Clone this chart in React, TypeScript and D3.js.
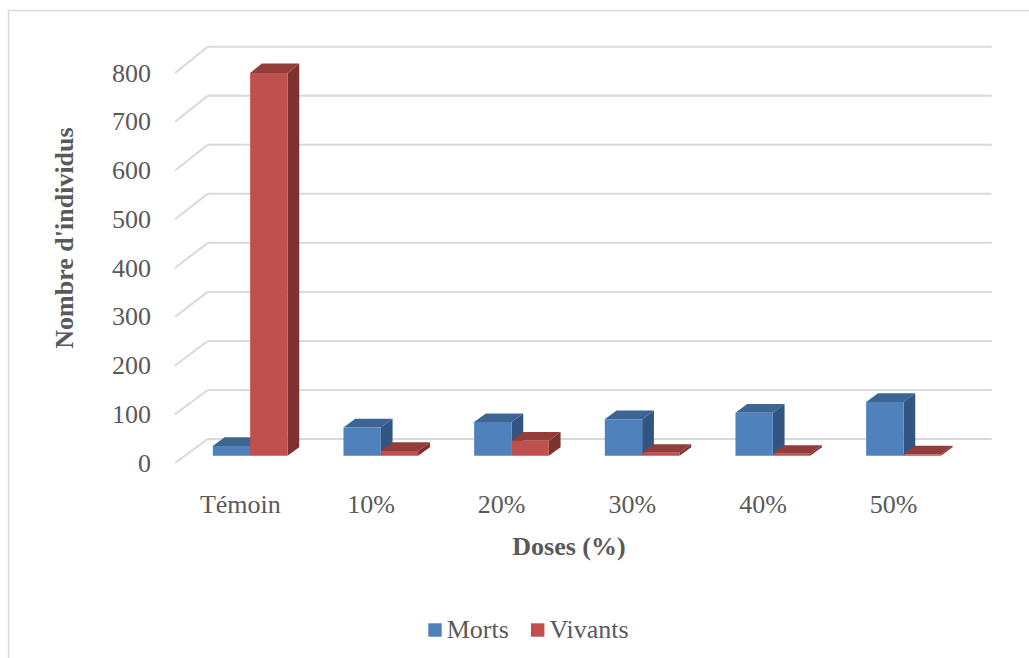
import React from "react";
import * as d3 from "d3";

// Chart data
const categories = ["Témoin", "10%", "20%", "30%", "40%", "50%"];
const morts = [20, 58, 69, 75, 88, 110];
const vivants = [784, 10, 31, 6, 4, 3];
const seriesNames = ["Morts", "Vivants"];
const yTicks = [0, 100, 200, 300, 400, 500, 600, 700, 800];

const W = 1029;
const H = 658;
const FONT = "'Liberation Serif', 'Times New Roman', serif";
const TEXT = "#595959";
const GRID = "#d9d9d9";

// Series colours: front, top, side faces
const palette = [
  { front: "#4f81bd", top: "#3c6594", side: "#325582" },
  { front: "#c0504d", top: "#943c3a", side: "#7d3230" },
];

// Oblique 3D projection: z = 0 front edge of the floor, z = 1 back wall
const DX = 32.7;
const xFront = d3.scaleBand<string>().domain(categories).range([175, 959]);
const yFront = d3.scaleLinear().domain([0, 800]).range([463, 73]);
const yBack = d3.scaleLinear().domain([0, 800]).range([439, 46.7]);

function proj(x: number, v: number, z: number): [number, number] {
  const yf = yFront(v);
  const yb = yBack(v);
  return [x + z * DX, yf + z * (yb - yf)];
}

const pts = (a: [number, number][]) => a.map((p) => p.join(",")).join(" ");

export default function App() {
  const series = [morts, vivants];
  const band = xFront.bandwidth();
  const bw = band / 3.5; // 150% gap width
  const offset = (band - 2 * bw) / 2;
  const z0 = 0.3;
  const z1 = 0.66;

  const bars: React.ReactNode[] = [];
  categories.forEach((cat, ci) => {
    series.forEach((vals, si) => {
      const v = vals[ci];
      const x0 = (xFront(cat) as number) + offset + si * bw;
      const x1 = x0 + bw;
      const c = palette[si];
      bars.push(
        <g key={`${ci}-${si}`}>
          <polygon
            points={pts([proj(x1, 0, z0), proj(x1, 0, z1), proj(x1, v, z1), proj(x1, v, z0)])}
            fill={c.side}
          />
          <polygon
            points={pts([proj(x0, v, z0), proj(x1, v, z0), proj(x1, v, z1), proj(x0, v, z1)])}
            fill={c.top}
          />
          <polygon
            points={pts([proj(x0, 0, z0), proj(x1, 0, z0), proj(x1, v, z0), proj(x0, v, z0)])}
            fill={c.front}
          />
        </g>
      );
    });
  });

  const xLeft = 175;
  const xRight = 959;

  return (
    <svg
      width={W}
      height={H}
      style={{ position: "absolute", left: 0, top: 0, background: "#fff" }}
      fontFamily={FONT}
    >
      <rect x={8.5} y={10.5} width={1040} height={680} fill="none" stroke={GRID} strokeWidth={1.5} />

      {/* gridlines: back wall and side wall */}
      {yTicks.map((t) => {
        const [bx, by] = proj(xLeft, t, 1);
        const [fx, fy] = proj(xLeft, t, 0);
        const [ex, ey] = proj(xRight, t, 1);
        return (
          <g key={t} stroke={GRID} strokeWidth={2} fill="none">
            <line x1={fx} y1={fy} x2={bx} y2={by} />
            <line x1={bx} y1={by} x2={ex} y2={ey} />
          </g>
        );
      })}

      {/* y tick labels */}
      {yTicks.map((t) => (
        <text
          key={`l${t}`}
          x={151}
          y={yFront(t)}
          dy="0.33em"
          textAnchor="end"
          fontSize={26}
          fill={TEXT}
        >
          {t}
        </text>
      ))}

      {bars}

      {/* category labels */}
      {categories.map((c) => (
        <text
          key={c}
          x={(xFront(c) as number) + band / 2}
          y={513}
          textAnchor="middle"
          fontSize={26}
          fill={TEXT}
        >
          {c}
        </text>
      ))}

      {/* axis titles */}
      <text x={569} y={555} textAnchor="middle" fontSize={26} fontWeight="bold" fill={TEXT}>
        Doses (%)
      </text>
      <text
        transform="translate(73,238) rotate(-90)"
        textAnchor="middle"
        fontSize={26}
        fontWeight="bold"
        fill={TEXT}
      >
        Nombre d'individus
      </text>

      {/* legend */}
      {seriesNames.map((name, i) => {
        const lx = i === 0 ? 428.3 : 531;
        return (
          <g key={name}>
            <rect x={lx} y={623.3} width={13.4} height={13.4} fill={palette[i].front} />
            <text x={lx + 18.4} y={638.3} fontSize={26} fill={TEXT}>
              {name}
            </text>
          </g>
        );
      })}
    </svg>
  );
}
